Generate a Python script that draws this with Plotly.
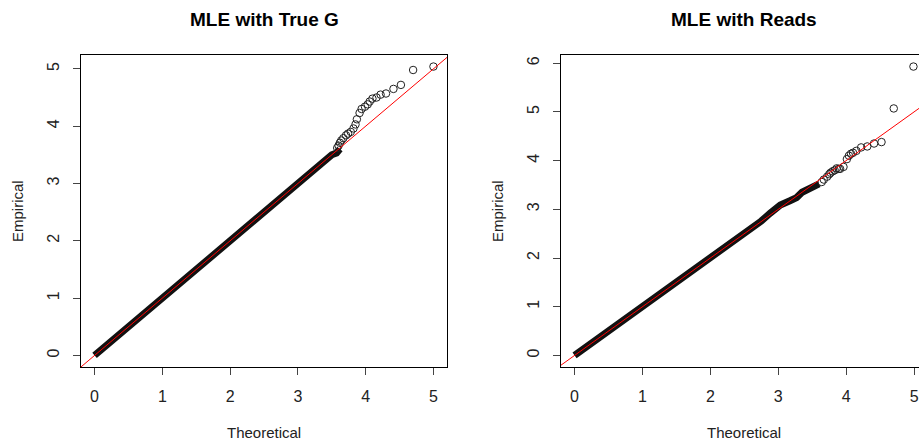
import plotly.graph_objects as go

# ---------------- data ----------------
titles = ["MLE with True G", "MLE with Reads"]
x_label = "Theoretical"
y_label = "Empirical"

# dense part of the Q-Q cloud (overlapping circles form a band)
left_band_theo = [0.0, 1.0, 2.0, 2.3, 2.5, 3.0, 3.3, 3.42, 3.5, 3.57, 3.62]
left_band_emp = [0.0, 1.0, 2.0, 2.28, 2.49, 3.0, 3.3, 3.44, 3.5, 3.53, 3.6]
# sparse upper tail (individual circles)
left_tail_theo = [3.58, 3.60, 3.62, 3.64, 3.67, 3.71, 3.74, 3.78, 3.82, 3.85, 3.87,
                  3.91, 3.94, 3.99, 4.03, 4.06, 4.10, 4.16, 4.22, 4.30, 4.41, 4.52,
                  4.70, 5.00]
left_tail_emp = [3.62, 3.66, 3.71, 3.75, 3.79, 3.84, 3.87, 3.90, 3.96, 4.03, 4.12,
                 4.23, 4.30, 4.34, 4.38, 4.43, 4.48, 4.50, 4.55, 4.57, 4.65, 4.72,
                 4.98, 5.04]

right_band_theo = [0.0, 1.0, 2.0, 2.29, 2.58, 2.75, 2.88, 3.03, 3.18, 3.27, 3.35,
                   3.47, 3.60]
right_band_emp = [0.0, 1.0, 2.0, 2.30, 2.57, 2.76, 2.92, 3.09, 3.18, 3.24, 3.35,
                  3.45, 3.52]
right_tail_theo = [3.64, 3.67, 3.72, 3.75, 3.77, 3.80, 3.83, 3.86, 3.89, 3.91, 3.96,
                   4.01, 4.04, 4.07, 4.10, 4.15, 4.22, 4.31, 4.41, 4.52, 4.70, 4.99]
right_tail_emp = [3.56, 3.61, 3.67, 3.72, 3.75, 3.78, 3.80, 3.84, 3.83, 3.83, 3.87,
                  4.03, 4.10, 4.14, 4.16, 4.20, 4.27, 4.29, 4.35, 4.38, 5.07, 5.93]

ref_intercept = 0.0
ref_slope = 1.0

x_ticks = [0, 1, 2, 3, 4, 5]
left_y_ticks = [0, 1, 2, 3, 4, 5]
right_y_ticks = [0, 1, 2, 3, 4, 5, 6]

# ---------------- layout geometry ----------------
W, H = 919, 445
FONT = "Liberation Sans, Arial, sans-serif"


def pad_range(vals, frac=0.04):
    lo, hi = min(vals), max(vals)
    d = (hi - lo) * frac
    return [lo - d, hi + d]


left_xr = pad_range(left_band_theo + left_tail_theo)
left_yr = pad_range(left_band_emp + left_tail_emp)
right_xr_full = pad_range(right_band_theo + right_tail_theo)
right_yr = pad_range(right_band_emp + right_tail_emp)

# right panel is cut off by the window edge: full box would be 561..927 px
box_l2, box_r2_full = 561, 927
right_xr = [right_xr_full[0],
            right_xr_full[0] + (right_xr_full[1] - right_xr_full[0]) * (W - box_l2) / (box_r2_full - box_l2)]

ydom = [1 - 367 / H, 1 - 55 / H]
left_xdom = [81 / W, 447 / W]
right_xdom = [box_l2 / W, 1.0]

fig = go.Figure()

panels = [
    ("x", "y", left_band_theo, left_band_emp, left_tail_theo, left_tail_emp, left_xr),
    ("x2", "y2", right_band_theo, right_band_emp, right_tail_theo, right_tail_emp, right_xr),
]

for xa, ya, bt, be, tt, te, xr in panels:
    fig.add_trace(go.Scatter(x=bt, y=be, xaxis=xa, yaxis=ya, mode="lines",
                             line=dict(color="#111", width=7),
                             hoverinfo="skip", showlegend=False))
    fig.add_trace(go.Scatter(x=tt, y=te, xaxis=xa, yaxis=ya, mode="markers",
                             marker=dict(symbol="circle-open", size=7.5, color="#222",
                                         line=dict(width=1, color="#222")),
                             showlegend=False))
    lx = [xr[0] - 1, xr[1] + 1]
    fig.add_trace(go.Scatter(x=lx, y=[ref_intercept + ref_slope * v for v in lx],
                             xaxis=xa, yaxis=ya, mode="lines",
                             line=dict(color="red", width=1),
                             hoverinfo="skip", showlegend=False))

axis_common = dict(showgrid=False, zeroline=False, showline=True, linecolor="black",
                   linewidth=1, ticks="outside", ticklen=7, tickwidth=1,
                   tickcolor="#444", tickfont=dict(family=FONT, size=16, color="#222"))

fig.update_layout(
    width=W, height=H,
    margin=dict(l=0, r=0, t=0, b=0),
    paper_bgcolor="white", plot_bgcolor="white",
    xaxis=dict(domain=left_xdom, range=left_xr, tickvals=x_ticks, mirror=True,
               anchor="y", ticklabelstandoff=8, **axis_common),
    yaxis=dict(domain=ydom, range=left_yr, tickvals=left_y_ticks, mirror=True,
               anchor="x", tickangle=-90, ticklabelstandoff=8, **axis_common),
    xaxis2=dict(domain=right_xdom, range=right_xr, tickvals=x_ticks, mirror=True,
                anchor="y2", ticklabelstandoff=8, **axis_common),
    yaxis2=dict(domain=ydom, range=right_yr, tickvals=right_y_ticks, mirror=False,
                anchor="x2", tickangle=-90, ticklabelstandoff=8, **axis_common),
)

annos = []
centers = [(81 + 447) / 2, (561 + 927) / 2]
ylab_x = [17, 497]
for i in range(2):
    annos.append(dict(text="<b>%s</b>" % titles[i], x=centers[i] / W, y=1 - 19 / H,
                      xref="paper", yref="paper", showarrow=False,
                      font=dict(family=FONT, size=19, color="black"),
                      xanchor="center", yanchor="middle"))
    annos.append(dict(text=x_label, x=centers[i] / W, y=1 - 432 / H,
                      xref="paper", yref="paper", showarrow=False,
                      font=dict(family=FONT, size=15, color="#222"),
                      xanchor="center", yanchor="middle"))
    annos.append(dict(text=y_label, x=ylab_x[i] / W, y=1 - 211 / H,
                      xref="paper", yref="paper", showarrow=False, textangle=-90,
                      font=dict(family=FONT, size=15, color="#222"),
                      xanchor="center", yanchor="middle"))
fig.update_layout(annotations=annos)

fig.write_html("out.html", config={"displayModeBar": False},
               post_script="document.body.style.margin='0';document.body.style.overflow='hidden';")
